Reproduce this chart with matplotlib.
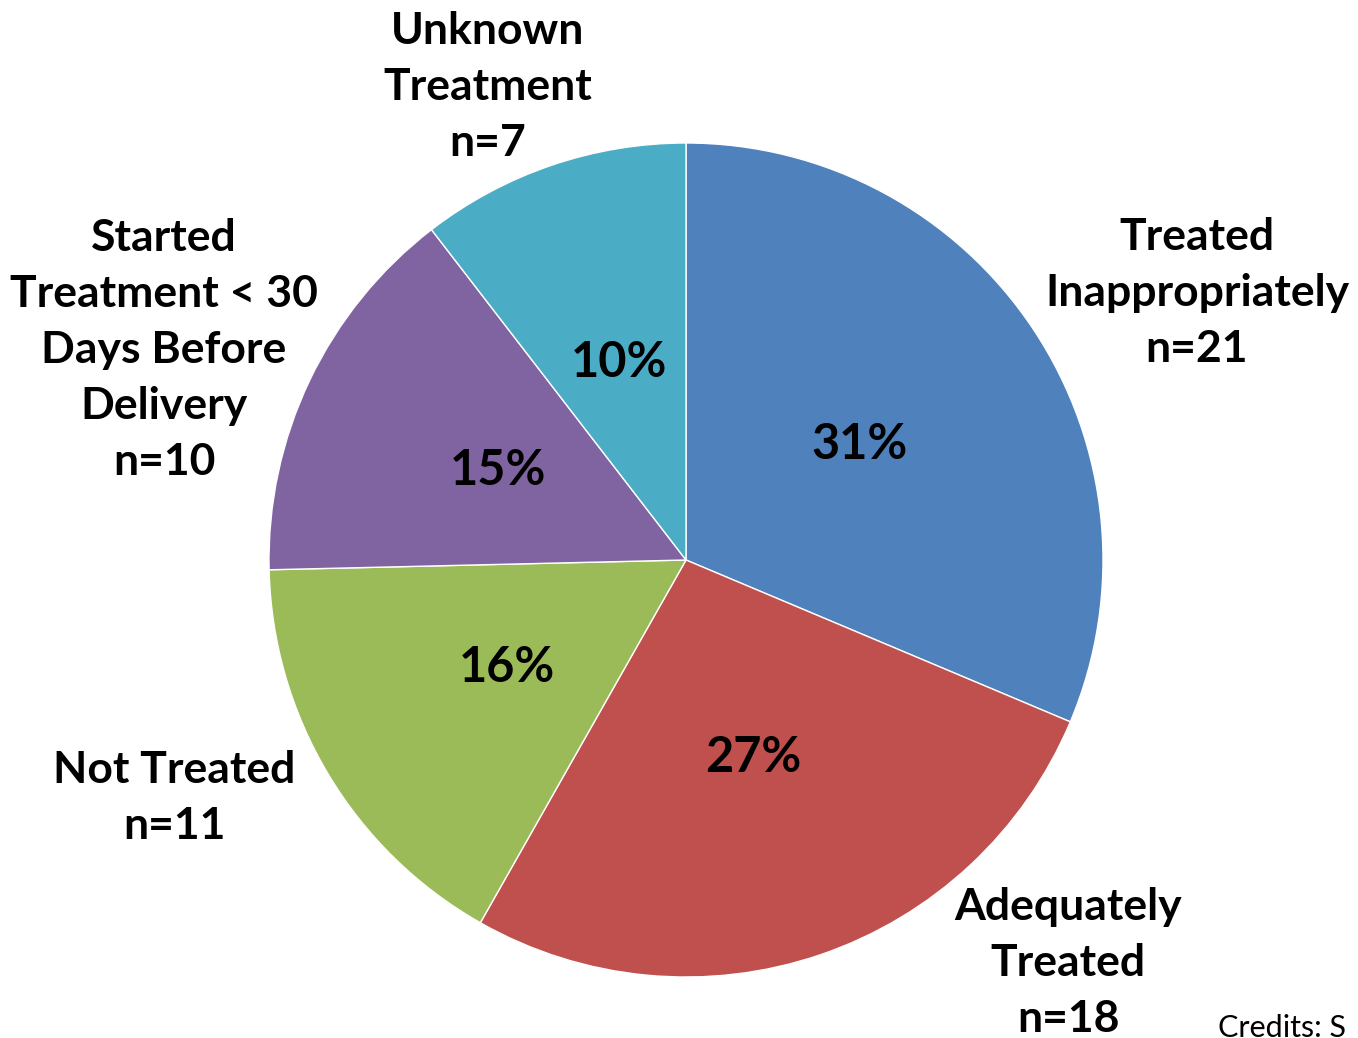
import matplotlib.pyplot as plt

labels = ["Treated\nInappropriately\nn=21", "Adequately\nTreated\nn=18", "Not Treated\nn=11",
          "Started\nTreatment < 30\nDays Before\nDelivery\nn=10", "Unknown\nTreatment\nn=7"]
counts = [21, 18, 11, 10, 7]
colors = ["#4F81BD", "#C0504D", "#9BBB59", "#8064A2", "#4BACC6"]

# where each category label sits (pixel coords, y downward)
label_pos = [(1197, 293), (1068, 963), (174, 798), (164, 350), (488, 87)]

plt.rcParams["font.family"] = ["Lato", "DejaVu Sans"]

fig = plt.figure(figsize=(13.58, 10.38), dpi=100)
ax = fig.add_axes([0, 0, 1, 1])

# y axis is flipped, so counterclock here runs clockwise on screen from the top
wedges, texts, pcts = ax.pie(counts, labels=labels, colors=colors, center=(686, 560), radius=417,
                             startangle=-90, counterclock=True, autopct="%1.0f%%", pctdistance=0.5,
                             wedgeprops=dict(edgecolor="white", linewidth=1),
                             textprops=dict(fontsize=32, fontweight="bold", color="black"),
                             frame=True)
ax.set_xlim(0, 1358)
ax.set_ylim(1038, 0)
ax.set_aspect("equal")
ax.axis("off")

for t, (x, y) in zip(texts, label_pos):
    t.set_position((x, y))
    t.set_ha("center")
    t.set_va("center")
    t.set_linespacing(1.48)

for p in pcts:
    p.set_fontsize(35)

ax.text(1218, 1028, "Credits: S", fontsize=22, ha="left", va="center")

fig.savefig("out.png", dpi=100)
